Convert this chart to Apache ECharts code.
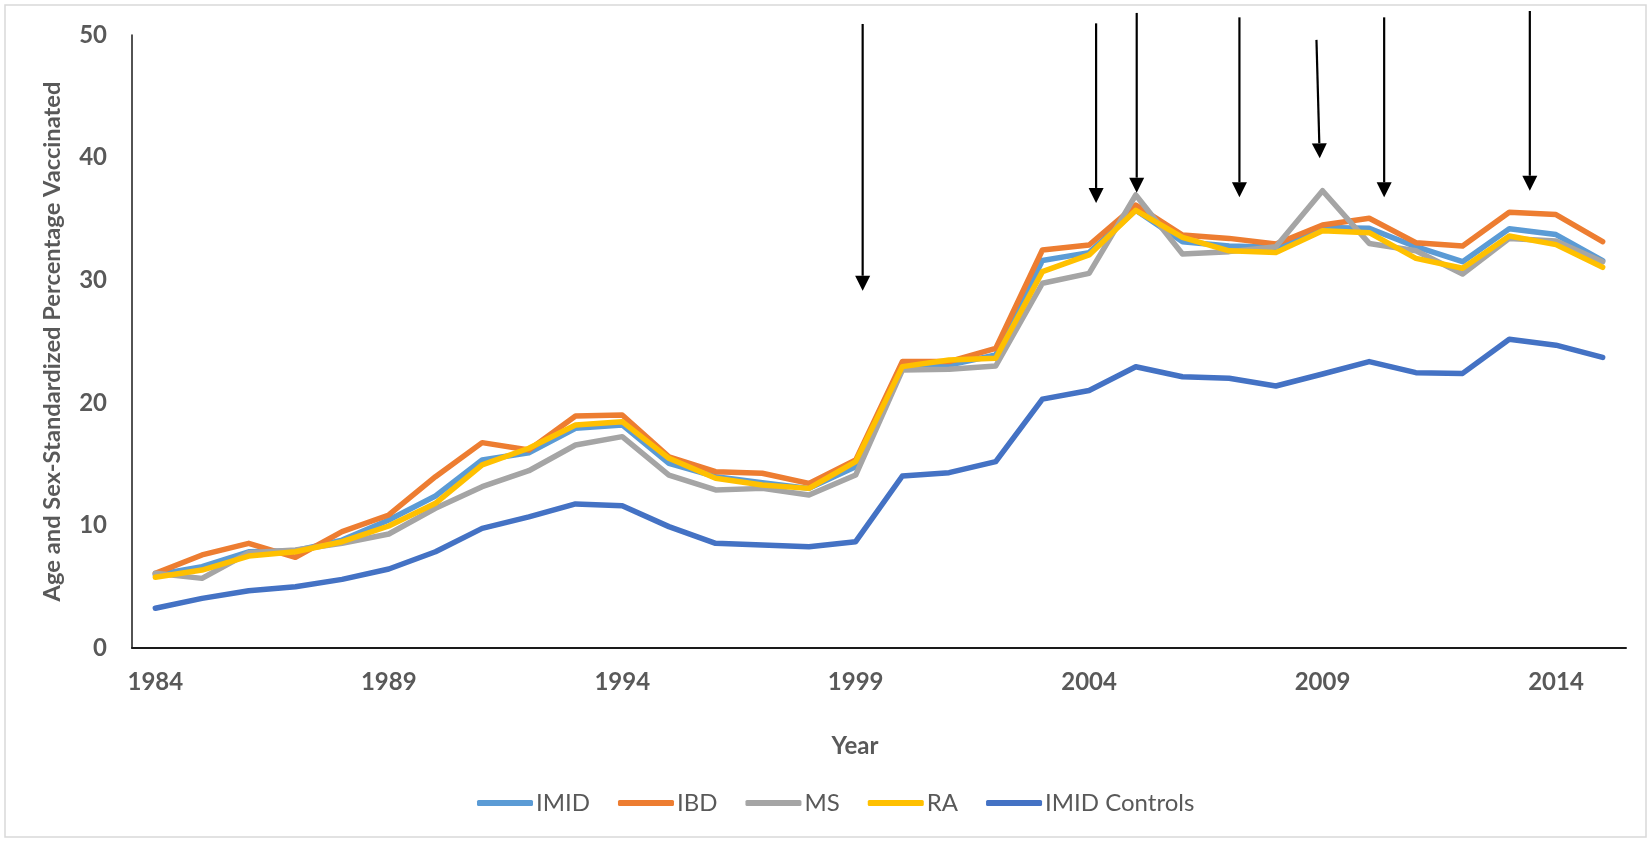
<!DOCTYPE html>
<html>
<head>
<meta charset="utf-8">
<script src="https://cdn.jsdelivr.net/npm/echarts@6/dist/echarts.min.js"></script>
<style>
  html, body { margin: 0; padding: 0; background: #ffffff; }
  #chart { width: 1652px; height: 843px; }
</style>
</head>
<body>
<div id="chart"></div>
<script>
// ---- Data ----
const years = ['1984','1985','1986','1987','1988','1989','1990','1991','1992','1993','1994','1995','1996','1997','1998','1999','2000','2001','2002','2003','2004','2005','2006','2007','2008','2009','2010','2011','2012','2013','2014','2015'];

const imid = [5.95, 6.63, 7.85, 7.94, 8.8, 10.44, 12.4, 15.33, 15.93, 17.92, 18.19, 15.06, 13.97, 13.49, 13.02, 14.79, 22.95, 23.08, 23.9, 31.6, 32.25, 35.7, 33.14, 32.79, 32.68, 34.3, 34.23, 32.73, 31.51, 34.2, 33.72, 31.6];
const ibd = [6.09, 7.59, 8.54, 7.4, 9.49, 10.85, 13.97, 16.75, 16.15, 18.92, 19.0, 15.6, 14.38, 14.25, 13.43, 15.33, 23.36, 23.36, 24.44, 32.46, 32.87, 36.13, 33.69, 33.41, 32.95, 34.5, 35.05, 33.06, 32.79, 35.55, 35.35, 33.14];
const ms = [6.09, 5.68, 7.77, 8.0, 8.54, 9.3, 11.4, 13.16, 14.46, 16.56, 17.24, 14.11, 12.89, 13.02, 12.48, 14.11, 22.67, 22.73, 23.0, 29.75, 30.56, 36.95, 32.14, 32.33, 32.73, 37.3, 33.0, 32.4, 30.5, 33.41, 33.2, 31.5];
const ra = [5.77, 6.36, 7.5, 7.85, 8.67, 9.95, 11.8, 14.93, 16.29, 18.19, 18.46, 15.47, 13.84, 13.3, 13.02, 15.2, 22.95, 23.49, 23.63, 30.7, 32.06, 35.7, 33.5, 32.4, 32.25, 34.04, 33.88, 31.78, 30.97, 33.6, 32.9, 31.05];
const controls = [3.24, 4.05, 4.67, 5.0, 5.6, 6.44, 7.85, 9.76, 10.7, 11.75, 11.6, 9.9, 8.54, 8.4, 8.26, 8.67, 14.03, 14.3, 15.2, 20.3, 21.0, 22.94, 22.13, 22.0, 21.37, 22.35, 23.36, 22.46, 22.4, 25.18, 24.7, 23.7];

const seriesNames = ['IMID', 'IBD', 'MS', 'RA', 'IMID Controls'];
const yTicks = { min: 0, max: 50, step: 10 };

// annotation arrows (year position and value of the tail and the tip)
const arrowTopYear = [1999.15, 2004.15, 2005.02, 2007.22, 2008.87, 2010.32, 2013.44];
const arrowTipYear = [1999.15, 2004.15, 2005.02, 2007.22, 2008.94, 2010.32, 2013.44];
const arrowTop = [50.9, 50.95, 51.8, 51.44, 49.6, 51.44, 51.96];
const arrowTip = [29.14, 36.3, 37.14, 36.76, 39.94, 36.76, 37.3];

// ---- Chart ----
const colors = ['#5B9BD5', '#ED7D31', '#A5A5A5', '#FFC000', '#4472C4'];
const values = [imid, ibd, ms, ra, controls];
const FONT = 'Lato';
const GRAY = '#595959';

const lineSeries = seriesNames.map((name, i) => ({
  name: name,
  type: 'line',
  data: values[i],
  showSymbol: false,
  symbol: 'none',
  smooth: false,
  z: 2 + i,
  lineStyle: { color: colors[i], width: 5.5, cap: 'round', join: 'round' },
  itemStyle: { color: colors[i] },
  emphasis: { disabled: true }
}));

const arrowSeries = {
  type: 'custom',
  xAxisIndex: 1,
  yAxisIndex: 0,
  silent: true,
  clip: false,
  z: 20,
  data: arrowTop.map((t, i) => [arrowTopYear[i], t, arrowTipYear[i], arrowTip[i]]),
  encode: { x: [0, 2], y: [1, 3] },
  renderItem: function (params, api) {
    const p0 = api.coord([api.value(0), api.value(1)]);
    const p1 = api.coord([api.value(2), api.value(3)]);
    const dx = p1[0] - p0[0], dy = p1[1] - p0[1];
    const L = Math.hypot(dx, dy);
    const ux = dx / L, uy = dy / L;
    const hl = 15, hw = 7.5;
    const bx = p1[0] - ux * hl, by = p1[1] - uy * hl;
    return {
      type: 'group',
      children: [
        { type: 'line', shape: { x1: p0[0], y1: p0[1], x2: bx, y2: by }, style: { stroke: '#000', lineWidth: 2.2 } },
        { type: 'polygon', shape: { points: [[p1[0], p1[1]], [bx - uy * hw, by + ux * hw], [bx + uy * hw, by - ux * hw]] }, style: { fill: '#000' } }
      ]
    };
  }
};

const chart = echarts.init(document.getElementById('chart'), null, { renderer: 'canvas' });
chart.setOption({
  animation: false,
  backgroundColor: '#ffffff',
  graphic: [{
    type: 'rect', silent: true, z: -10,
    shape: { x: 5, y: 5, width: 1641, height: 832 },
    style: { fill: 'none', stroke: '#D9D9D9', lineWidth: 1.5 }
  }],
  grid: { left: 132, right: 26, top: 35, bottom: 195, containLabel: false },
  legend: {
    data: seriesNames,
    left: 472,
    top: 786,
    icon: 'roundRect',
    itemWidth: 56,
    itemHeight: 6,
    itemGap: 28,
    textStyle: { fontFamily: FONT, fontSize: 24, color: GRAY, padding: [0, 0, 0, -2] }
  },
  xAxis: [{
    type: 'category',
    data: years,
    boundaryGap: true,
    name: 'Year',
    nameLocation: 'middle',
    nameGap: 86,
    nameTextStyle: { fontFamily: FONT, fontSize: 24, fontWeight: 'bold', color: GRAY, padding: [0, 48, 0, 0] },
    axisLine: { show: true, lineStyle: { color: '#1a1a1a', width: 2 } },
    axisTick: { show: false },
    axisLabel: { interval: 4, margin: 22, fontFamily: FONT, fontSize: 24, fontWeight: 'bold', color: GRAY },
    splitLine: { show: false }
  }, {
    type: 'value',
    min: 1983.5,
    max: 2015.5,
    show: false
  }],
  yAxis: [{
    type: 'value',
    min: yTicks.min,
    max: yTicks.max,
    interval: yTicks.step,
    name: 'Age and Sex-Standardized Percentage Vaccinated',
    nameLocation: 'middle',
    nameGap: 68,
    nameRotate: 90,
    nameTextStyle: { fontFamily: FONT, fontSize: 23.7, fontWeight: 'bold', color: GRAY, padding: [0, 0, 0, 0] },
    axisLine: { show: true, lineStyle: { color: '#1a1a1a', width: 1.5 } },
    axisTick: { show: false },
    axisLabel: { margin: 25, fontFamily: FONT, fontSize: 24, fontWeight: 'bold', color: GRAY },
    splitLine: { show: false }
  }],
  series: lineSeries.concat([arrowSeries])
});
</script>
</body>
</html>
